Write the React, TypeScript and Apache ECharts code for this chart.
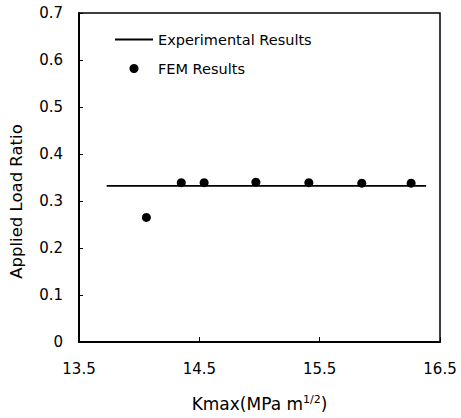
import React, { useEffect, useRef } from "react";
import * as echarts from "echarts";

const femX = [14.06, 14.35, 14.54, 14.97, 15.41, 15.85, 16.26];
const femY = [0.265, 0.339, 0.339, 0.34, 0.339, 0.338, 0.338];
const expX = [13.73, 16.385];
const expY = [0.332, 0.332];

const FONT = "DejaVu Sans";
const LINE_ICON =
  "path://M0,0L0.01,0L0,0.01Z M0,3.6L38,3.6L38,5.4L0,5.4Z M38,9L37.99,9L38,8.99Z";

export default function App() {
  const ref = useRef<HTMLDivElement>(null);
  useEffect(() => {
    if (!ref.current) return;
    const chart = echarts.init(ref.current, undefined, { renderer: "svg" });
    chart.setOption({
      animation: false,
      backgroundColor: "#fff",
      grid: {
        left: 79,
        right: 21,
        top: 13,
        bottom: 68,
        show: true,
        borderColor: "#000",
        borderWidth: 1.5,
        backgroundColor: "transparent",
      },
      legend: {
        orient: "vertical",
        left: 110,
        top: 27,
        itemWidth: 38,
        itemHeight: 9,
        itemGap: 14,
        textStyle: { fontFamily: FONT, fontSize: 14.5, color: "#000" },
        data: [
          { name: "Experimental Results", icon: LINE_ICON, itemStyle: { color: "#000" } },
          { name: "FEM Results", icon: "circle" },
        ],
      },
      xAxis: {
        type: "value",
        min: 13.5,
        max: 16.5,
        interval: 1,
        name: "Kmax(MPa m{sup|1/2})",
        nameLocation: "middle",
        nameGap: 52,
        nameTextStyle: {
          fontFamily: FONT,
          fontSize: 17,
          color: "#000",
          lineHeight: 19,
          rich: {
            sup: { fontFamily: FONT, fontSize: 11, lineHeight: 11, verticalAlign: "top", color: "#000" },
          },
        },
        axisLine: { show: true, lineStyle: { color: "#000", width: 2 } },
        axisTick: { show: true, inside: true, length: 5, lineStyle: { color: "#000", width: 1 } },
        axisLabel: {
          margin: 19,
          fontFamily: FONT,
          fontSize: 15,
          color: "#000",
          formatter: (v: number) => v.toFixed(1),
        },
        splitLine: { show: false },
      },
      yAxis: {
        type: "value",
        min: 0,
        max: 0.7,
        interval: 0.1,
        name: "Applied Load Ratio",
        nameLocation: "middle",
        nameGap: 54,
        nameTextStyle: { fontFamily: FONT, fontSize: 16.5, color: "#000", padding: [0, 48, 0, 0] },
        axisLine: { show: true, lineStyle: { color: "#000", width: 2 } },
        axisTick: { show: true, inside: true, length: 4, lineStyle: { color: "#000", width: 1 } },
        axisLabel: {
          margin: 16,
          fontFamily: FONT,
          fontSize: 15,
          color: "#000",
          formatter: (v: number) => (v === 0 ? "0" : v.toFixed(1)),
        },
        splitLine: { show: false },
      },
      series: [
        {
          name: "Experimental Results",
          type: "line",
          data: expX.map((x, i) => [x, expY[i]]),
          symbol: "none",
          lineStyle: { color: "#000", width: 1.8 },
          itemStyle: { color: "#000" },
        },
        {
          name: "FEM Results",
          type: "scatter",
          data: femX.map((x, i) => [x, femY[i]]),
          symbol: "circle",
          symbolSize: 9,
          itemStyle: { color: "#000", opacity: 1 },
        },
      ],
    });
    return () => chart.dispose();
  }, []);
  return (
    <div
      ref={ref}
      style={{ position: "absolute", left: 0, top: 0, width: 461, height: 418 }}
    />
  );
}
